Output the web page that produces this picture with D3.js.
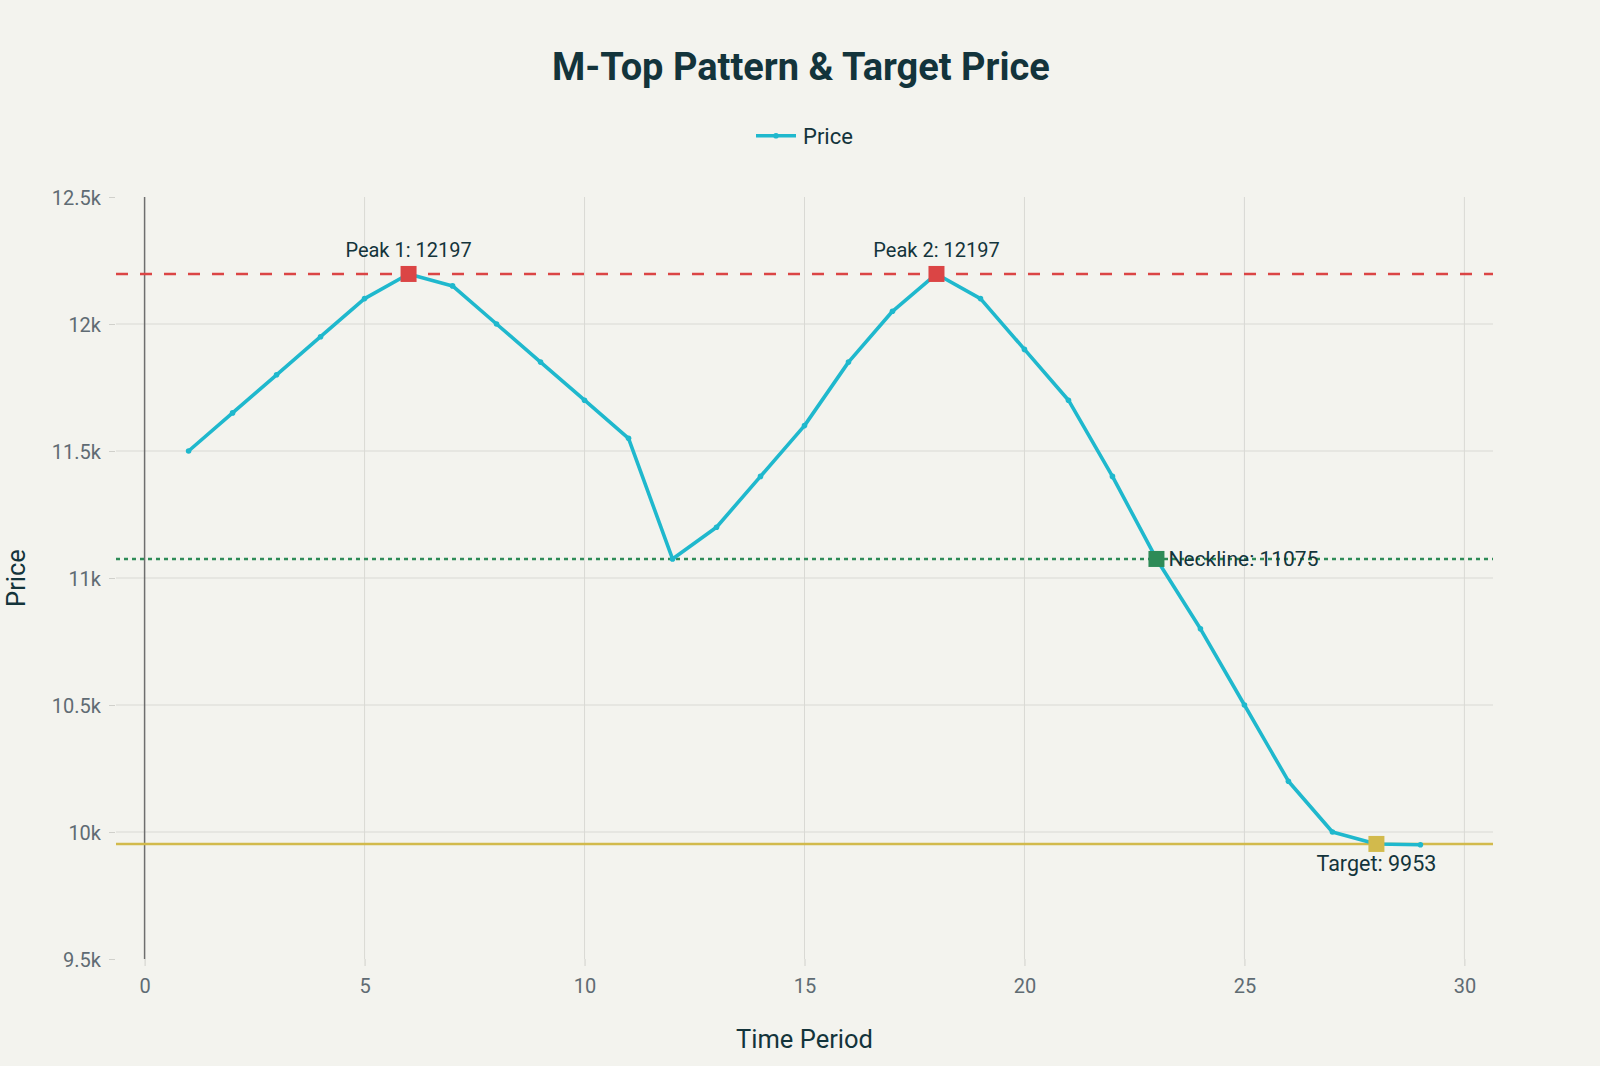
<!DOCTYPE html>
<html>
<head>
<meta charset="utf-8">
<script src="https://cdn.jsdelivr.net/npm/d3@7"></script>
<style>
  html, body { margin: 0; padding: 0; background: #f3f3ee; }
  svg { display: block; }
</style>
</head>
<body>
<svg id="chart" width="1600" height="1066"></svg>
<script>
// ---------- data ----------
const periods = [1,2,3,4,5,6,7,8,9,10,11,12,13,14,15,16,17,18,19,20,21,22,23,24,25,26,27,28,29];
const prices  = [11500,11650,11800,11950,12100,12197,12150,12000,11850,11700,11550,11075,
                 11200,11400,11600,11850,12050,12197,12100,11900,11700,11400,11075,10800,
                 10500,10200,10000,9953,9950];
const peakPeriods = [6, 18];
const peakPrices = [12197, 12197];
const peakLabels = ["Peak 1: 12197", "Peak 2: 12197"];
const necklinePeriod = 23;
const necklinePrice = 11075;
const necklineLabel = "Neckline: 11075";
const targetPeriod = 28;
const targetPrice = 9953;
const targetLabel = "Target: 9953";
const xTicks = [0,5,10,15,20,25,30];
const yTicks = [9500,10000,10500,11000,11500,12000,12500];
const seriesName = "Price";

// ---------- layout ----------
const W = 1600, H = 1066;
const L = 116, R = 1493, T = 197, B = 959;
const FONT = "Roboto, 'Liberation Sans', Arial, sans-serif";
const C_LINE = "#1FB8CD", C_RED = "#DB4545", C_GREEN = "#2E8B57", C_GOLD = "#D2BA4C";
const C_TEXT = "#13343B", C_TICK = "#5f6b73", C_GRID = "#d9d9d4";

const svg = d3.select("#chart");
svg.append("rect").attr("width", W).attr("height", H).attr("fill", "#f3f3ee");

const x = d3.scaleLinear().domain([-0.65, 30.65]).range([L, R]);
const y = d3.scaleLinear().domain([9500, 12500]).range([B, T]);

// gridlines
const grid = svg.append("g");
grid.selectAll("line.vg").data(xTicks.filter(d => d !== 0)).join("line")
  .attr("x1", d => x(d)).attr("x2", d => x(d)).attr("y1", T).attr("y2", B)
  .attr("stroke", C_GRID).attr("stroke-width", 1);
grid.selectAll("line.hg").data(yTicks.filter(d => d > 9500 && d < 12500)).join("line")
  .attr("x1", L).attr("x2", R).attr("y1", d => y(d)).attr("y2", d => y(d))
  .attr("stroke", C_GRID).attr("stroke-width", 1);

// zero line
svg.append("line").attr("x1", x(0)).attr("x2", x(0)).attr("y1", T).attr("y2", B)
  .attr("stroke", "#6e6e6e").attr("stroke-width", 1.5);

// axes
const yAxis = d3.axisLeft(y).tickValues(yTicks).tickFormat(d3.format("~s")).tickSize(6).tickPadding(8).tickSizeOuter(0);
const gy = svg.append("g").attr("transform", `translate(${L - 1},0)`).call(yAxis);
gy.select(".domain").remove();
gy.selectAll(".tick line").attr("stroke", "#d0d0cb");
gy.selectAll(".tick text").attr("fill", C_TICK).style("font-family", FONT).style("font-size", "20px")
  .attr("dy", "0.35em");

const xAxis = d3.axisBottom(x).tickValues(xTicks).tickFormat(d3.format("d")).tickSize(7).tickSizeOuter(0);
const gx = svg.append("g").attr("transform", `translate(0,${B})`).call(xAxis);
gx.select(".domain").remove();
gx.selectAll(".tick line").attr("stroke", "#d0d0cb");
gx.selectAll(".tick text").attr("fill", C_TICK).style("font-family", FONT).style("font-size", "20px")
  .attr("y", 34).attr("dy", 0);

// reference lines
svg.append("line").attr("x1", L).attr("x2", R).attr("y1", y(peakPrices[0])).attr("y2", y(peakPrices[0]))
  .attr("stroke", C_RED).attr("stroke-width", 2.5).attr("stroke-dasharray", "12,12");
svg.append("line").attr("x1", L).attr("x2", R).attr("y1", y(necklinePrice)).attr("y2", y(necklinePrice))
  .attr("stroke", C_GREEN).attr("stroke-width", 2.5).attr("stroke-dasharray", "4,4");
svg.append("line").attr("x1", L).attr("x2", R).attr("y1", y(targetPrice)).attr("y2", y(targetPrice))
  .attr("stroke", C_GOLD).attr("stroke-width", 2.5);

// price line
const pts = periods.map((p, i) => [p, prices[i]]);
const line = d3.line().x(d => x(d[0])).y(d => y(d[1]));
svg.append("path").datum(pts).attr("d", line).attr("fill", "none")
  .attr("stroke", C_LINE).attr("stroke-width", 3.6).attr("stroke-linejoin", "round");
svg.append("g").selectAll("circle").data(pts).join("circle")
  .attr("cx", d => x(d[0])).attr("cy", d => y(d[1])).attr("r", 2.8).attr("fill", C_LINE);

// key markers
const S = 16;
function square(px, py, color) {
  svg.append("rect").attr("x", x(px) - S/2).attr("y", y(py) - S/2).attr("width", S).attr("height", S)
    .attr("fill", color);
}
peakPeriods.forEach((p, i) => square(p, peakPrices[i], C_RED));
square(necklinePeriod, necklinePrice, C_GREEN);
square(targetPeriod, targetPrice, C_GOLD);

// annotations
const ann = svg.append("g").style("font-family", FONT).style("font-size", "20px").attr("fill", C_TEXT);
peakPeriods.forEach((p, i) => {
  ann.append("text").attr("x", x(p)).attr("y", y(peakPrices[i]) - 16.5)
    .attr("text-anchor", "middle").text(peakLabels[i]);
});
ann.append("text").attr("x", x(necklinePeriod) + 12).attr("y", y(necklinePrice) + 7)
  .attr("text-anchor", "start").style("font-size", "21px").text(necklineLabel);
ann.append("text").attr("x", x(targetPeriod)).attr("y", y(targetPrice) + 27)
  .attr("text-anchor", "middle").style("font-size", "21.5px").text(targetLabel);

// title
svg.append("text").attr("x", 801).attr("y", 80).attr("text-anchor", "middle")
  .style("font-family", FONT).style("font-size", "38px").style("font-weight", "bold")
  .attr("fill", C_TEXT).text("M-Top Pattern & Target Price");

// legend
const lg = svg.append("g");
lg.append("line").attr("x1", 756).attr("x2", 796).attr("y1", 135.7).attr("y2", 135.7)
  .attr("stroke", C_LINE).attr("stroke-width", 3.6);
lg.append("circle").attr("cx", 776).attr("cy", 135.7).attr("r", 2.8).attr("fill", C_LINE);
lg.append("text").attr("x", 803).attr("y", 144).style("font-family", FONT).style("font-size", "22px")
  .attr("fill", C_TEXT).text(seriesName);

// axis titles
svg.append("text").attr("x", (L + R) / 2).attr("y", 1048).attr("text-anchor", "middle")
  .style("font-family", FONT).style("font-size", "25.5px").attr("fill", C_TEXT).text("Time Period");
svg.append("text").attr("transform", `translate(25,${(T + B) / 2}) rotate(-90)`).attr("text-anchor", "middle")
  .style("font-family", FONT).style("font-size", "25.5px").attr("fill", C_TEXT).text("Price");
</script>
</body>
</html>
